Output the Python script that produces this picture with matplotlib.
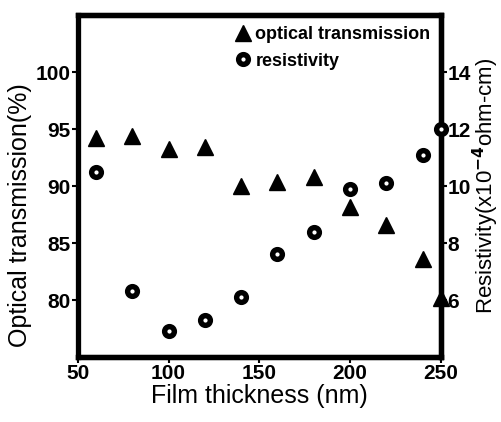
import matplotlib.pyplot as plt
from matplotlib.lines import Line2D

plt.rcParams['font.family'] = ['Liberation Sans', 'DejaVu Sans']
plt.rcParams['font.weight'] = 'bold'
plt.rcParams['mathtext.default'] = 'bf'

# data
thickness = [60, 80, 100, 120, 140, 160, 180, 200, 220, 240, 250]
transmission = [94.2, 94.4, 93.3, 93.4, 90.0, 90.4, 90.8, 88.2, 86.6, 83.6, 80.2]
resistivity = [10.5, 6.3, 4.9, 5.3, 6.1, 7.6, 8.4, 9.9, 10.1, 11.1, 12.0]

fig = plt.figure(figsize=(5.02, 4.22), dpi=100)
ax = fig.add_axes([0.155, 0.154, 0.723, 0.810])
ax2 = ax.twinx()

tri = dict(ls='none', marker='^', ms=11, color='black')
circ = dict(ls='none', marker='o', ms=7, mfc='white', mec='black', mew=3.9)

ax.plot(thickness, transmission, clip_on=False, zorder=5, **tri)
ax2.plot(thickness, resistivity, clip_on=False, zorder=5, **circ)

ax.set_xlim(50, 250)
ax.set_ylim(75, 105)
ax2.set_ylim(4, 16)
ax.set_xticks([50, 100, 150, 200, 250])
ax.set_yticks([80, 85, 90, 95, 100])
ax2.set_yticks([6, 8, 10, 12, 14])

for a in (ax, ax2):
    for s in a.spines.values():
        s.set_linewidth(3.8)
    a.tick_params(width=1.5, length=4, labelsize=15, pad=1)
ax2.spines['left'].set_visible(False)

ax.set_xlabel('Film thickness (nm)', fontsize=18, fontweight='normal', labelpad=1)
ax.set_ylabel('Optical transmission(%)', fontsize=18, fontweight='normal')
ax.yaxis.set_label_coords(-0.125, 0.415)
ax2.set_ylabel(r'Resistivity(x10$^{-4}$ohm-cm)', fontsize=16, fontweight='normal')
ax2.yaxis.set_label_coords(1.083, 0.5)

handles = [Line2D([], [], **tri), Line2D([], [], **circ)]
ax.legend(handles, ['optical transmission', 'resistivity'], loc='upper left',
          bbox_to_anchor=(0.405, 0.99), frameon=False, fontsize=13,
          handletextpad=0.1, labelspacing=0.55, handlelength=1.2,
          borderaxespad=0)

fig.savefig('out.png', dpi=100)
